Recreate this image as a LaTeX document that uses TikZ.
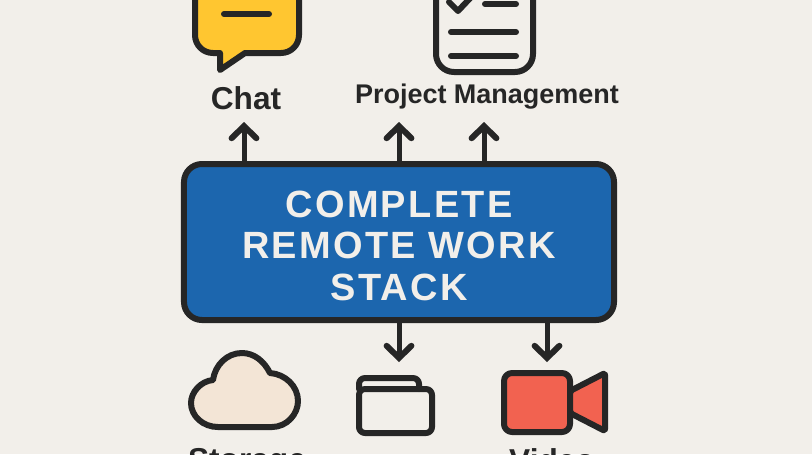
\documentclass[tikz,border=0pt]{standalone}
\usepackage{fontspec}
\setmainfont{Liberation Sans}
\newfontfamily\titlefont[LetterSpace=6]{Liberation Sans}
\usetikzlibrary{arrows.meta}
\definecolor{paper}{HTML}{F2EFEA}
\definecolor{ink}{HTML}{262626}
\definecolor{stackblue}{HTML}{1C66AE}
\definecolor{chatyellow}{HTML}{FFC630}
\definecolor{cloudtan}{HTML}{F3E5D6}
\definecolor{camred}{HTML}{F26250}
\tikzset{
  stackbox/.style={draw=ink,fill=stackblue,line width=1.5mm,rounded corners=4.5mm,
    minimum width=107.5mm,minimum height=39mm,text=paper,align=center,inner sep=0pt,
    font=\titlefont\bfseries\fontsize{27}{29.4}\selectfont},
  toollabel/.style={text=ink,inner sep=0pt,font=\bfseries\fontsize{22.5}{24}\selectfont},
  icon/.style={draw=ink,line width=1.5mm,line join=round,rounded corners=4.5mm},
  iconline/.style={draw=ink,line width=1.5mm,line cap=round,line join=round},
  flow/.style={draw=ink,line width=1.25mm,-{Straight Barb[length=3mm,width=6.2mm,line cap=round,line width=1.5mm]}}
}
\begin{document}
\begin{tikzpicture}[x=0.25mm,y=-0.25mm]
  \useasboundingbox (0,0) rectangle (812,454);
  \clip (0,0) rectangle (812,454);
  \fill[paper] (0,0) rectangle (812,454);

  \node[stackbox] (stack) at (399,242) {\rule{0pt}{24pt}COMPLETE\\REMOTE WORK\\STACK};

  % chat bubble
  \draw[iconline,fill=chatyellow] (195,-30) -- (195,35) .. controls (195,45) and (203,53) .. (213,53)
    -- (220,53) -- (220,70) -- (245,53) -- (281,53) .. controls (291,53) and (299,45) .. (299,35) -- (299,-30) -- cycle;
  \draw[iconline] (224,14) -- (269,14);

  % checklist
  \path[icon] (436,-30) -- (436,72) -- (533,72) -- (533,-30) -- cycle;
  \draw[iconline] (449,2) -- (458,11) -- (474,-6);
  \draw[iconline] (485,4) -- (516,4);
  \draw[iconline] (451,32) -- (516,32);
  \draw[iconline] (451,56) -- (516,56);

  % cloud
  \draw[iconline,fill=cloudtan] (218,427) -- (272,427)
    .. controls (287,427) and (298,414) .. (298,401)
    .. controls (298,386) and (285,374) .. (270,373)
    .. controls (264,361) and (254,353) .. (242,353)
    .. controls (227,353) and (215,365) .. (213,380)
    .. controls (201,381) and (191,392) .. (191,403)
    .. controls (191,416) and (203,427) .. (218,427) -- cycle;

  % folder
  \draw[iconline,rounded corners=1.5mm] (359,389) -- (359,378) -- (419,378) -- (419,389);
  \path[icon,rounded corners=1.5mm] (359,389) rectangle (432,433);

  % camera
  \path[icon,fill=camred,rounded corners=2mm] (504,373) rectangle (570,432);
  \path[icon,fill=camred,rounded corners=0.5mm] (570,391) -- (605,373) -- (605,431) -- (570,413) -- cycle;

  \node[toollabel] (chat) at (246,98) {Chat};
  \node[toollabel,font=\bfseries\fontsize{19.2}{22}\selectfont] (project) at (487,97) {Project Management};
  \node[toollabel,anchor=north] (storage) at (247,448) {Storage};
  \node[toollabel,anchor=north] (video) at (552,448) {Video};

  \coordinate (chatup) at (244,122);
  \coordinate (projup) at (399,122);
  \coordinate (planup) at (484,122);
  \coordinate (filedown) at (399,362);
  \coordinate (videodown) at (547,362);

  \foreach \tip in {chatup,projup,planup}
    \draw[flow] (stack.north -| \tip) -- (\tip);
  \foreach \tip in {filedown,videodown}
    \draw[flow] (stack.south -| \tip) -- (\tip);
\end{tikzpicture}
\end{document}
